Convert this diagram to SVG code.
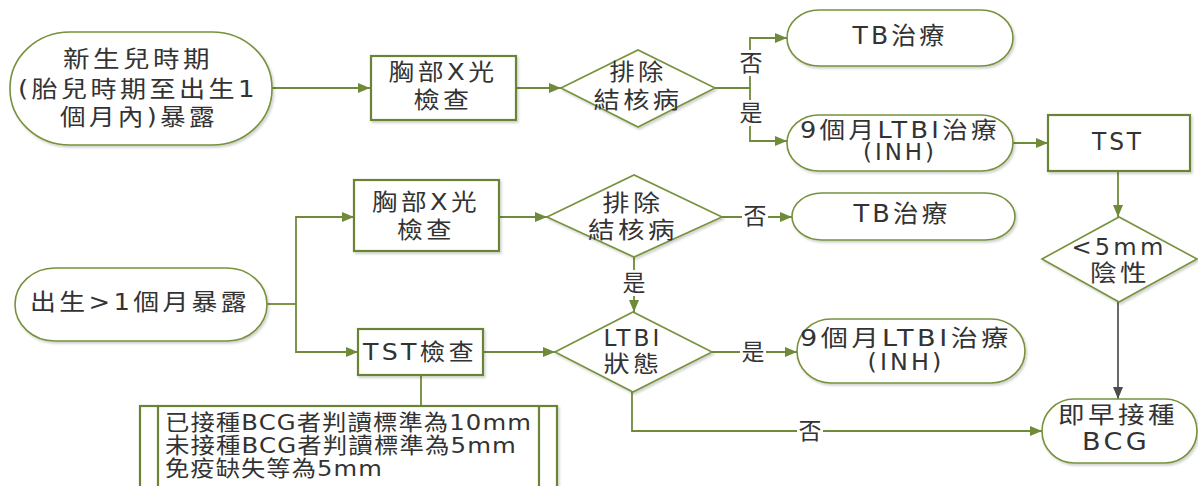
<svg xmlns="http://www.w3.org/2000/svg" width="1198" height="486" viewBox="0 0 1198 486">
<defs>
<style>
.sh{fill:#fff;stroke:#76923c;stroke-width:1.6}
.bx{fill:#fff;stroke:#6b8436;stroke-width:2.2}
.ln{fill:none;stroke:#6f8a39;stroke-width:1.8}
.lg{fill:none;stroke:#595959;stroke-width:1.8}
text{font-family:"DejaVu Sans","Noto Sans CJK TC","Noto Sans CJK SC",sans-serif;font-size:23px;fill:#333;text-anchor:middle;dominant-baseline:central;letter-spacing:3px}
.big{font-size:24px}
.lab{font-size:23px;letter-spacing:0}
.nt{text-anchor:start;font-size:22px;letter-spacing:1px}
.lb{fill:#fff}
</style>
<marker id="ag" viewBox="0 0 12 10" refX="12" refY="5" markerWidth="12" markerHeight="10" markerUnits="userSpaceOnUse" orient="auto">
<path d="M0,0 L12,5 L0,10 Z" fill="#6f8a39"/>
</marker>
<marker id="ak" viewBox="0 0 12 10" refX="12" refY="5" markerWidth="12" markerHeight="10" markerUnits="userSpaceOnUse" orient="auto">
<path d="M0,0 L12,5 L0,10 Z" fill="#4d4d4d"/>
</marker>
<filter id="ds" x="-10%" y="-10%" width="125%" height="130%">
<feDropShadow dx="1.5" dy="2" stdDeviation="1.2" flood-color="#000" flood-opacity="0.18"/>
</filter>
</defs>
<rect width="1198" height="486" fill="#fff"/>

<g id="connectors">
<path class="ln" d="M272,88 H370" marker-end="url(#ag)"/>
<path class="ln" d="M516,88 H561" marker-end="url(#ag)"/>
<path class="ln" d="M715,88 H750"/>
<path class="ln" d="M750,88 V38 H787" marker-end="url(#ag)"/>
<path class="ln" d="M750,88 V141 H787" marker-end="url(#ag)"/>
<path class="ln" d="M1013,143 H1048" marker-end="url(#ag)"/>
<path class="ln" d="M1118,171 V217" marker-end="url(#ag)"/>
<path class="lg" d="M1118,302 V399" marker-end="url(#ak)"/>
<path class="ln" d="M267,304 H296"/>
<path class="ln" d="M296,304 V217 H354" marker-end="url(#ag)"/>
<path class="ln" d="M296,304 V352 H358" marker-end="url(#ag)"/>
<path class="ln" d="M499,217 H547" marker-end="url(#ag)"/>
<path class="ln" d="M722,217 H792" marker-end="url(#ag)"/>
<path class="ln" d="M634,257 V312" marker-end="url(#ag)"/>
<path class="ln" d="M483,352 H555" marker-end="url(#ag)"/>
<path class="ln" d="M712,352 H797" marker-end="url(#ag)"/>
<path class="ln" d="M632,392 V431 H1042" marker-end="url(#ag)"/>
<path class="ln" d="M421,375 V406"/>
<rect class="lb" x="738" y="50" width="26" height="26"/>
<text class="lab" x="751" y="63">否</text>
<rect class="lb" x="738" y="100" width="26" height="26"/>
<text class="lab" x="751" y="113">是</text>
<rect class="lb" x="742" y="203" width="26" height="26"/>
<text class="lab" x="755" y="216">否</text>
<rect class="lb" x="621" y="270" width="26" height="26"/>
<text class="lab" x="634" y="283">是</text>
<rect class="lb" x="740" y="339" width="26" height="26"/>
<text class="lab" x="753" y="352">是</text>
<rect class="lb" x="797" y="418" width="26" height="26"/>
<text class="lab" x="810" y="431">否</text>
</g>

<g id="n-newborn">
<rect class="sh" filter="url(#ds)" x="10" y="32" width="262" height="113" rx="60" ry="56"/>
<text x="138" y="59" textLength="150" lengthAdjust="spacingAndGlyphs">新生兒時期</text>
<text x="138" y="89" textLength="240" lengthAdjust="spacingAndGlyphs">(胎兒時期至出生1</text>
<text x="139" y="117" textLength="158" lengthAdjust="spacingAndGlyphs">個月內)暴露</text>
</g>

<g id="n-xray1">
<rect class="bx" filter="url(#ds)" x="371" y="56" width="145" height="64"/>
<text x="443" y="72" textLength="109" lengthAdjust="spacingAndGlyphs">胸部X光</text>
<text x="443" y="100" textLength="59" lengthAdjust="spacingAndGlyphs">檢查</text>
</g>

<g id="n-rule1">
<polygon class="sh" filter="url(#ds)" points="561,88 638,50 715,88 638,127"/>
<text x="638" y="72" textLength="57" lengthAdjust="spacingAndGlyphs">排除</text>
<text x="638" y="100" textLength="89" lengthAdjust="spacingAndGlyphs">結核病</text>
</g>

<g id="n-tb1">
<rect class="sh" filter="url(#ds)" x="787" y="10" width="226" height="56" rx="32" ry="28"/>
<text class="big" x="900" y="36" textLength="95" lengthAdjust="spacingAndGlyphs">TB治療</text>
</g>

<g id="n-ltbi1">
<rect class="sh" filter="url(#ds)" x="787" y="115" width="226" height="56" rx="32" ry="28"/>
<text x="900" y="130" textLength="200" lengthAdjust="spacingAndGlyphs">9個月LTBI治療</text>
<text x="900" y="152" textLength="74" lengthAdjust="spacingAndGlyphs">(INH)</text>
</g>

<g id="n-tst1">
<rect class="bx" filter="url(#ds)" x="1048" y="115" width="142" height="56"/>
<text class="big" x="1118" y="142" textLength="52" lengthAdjust="spacingAndGlyphs">TST</text>
</g>

<g id="n-after1m">
<rect class="sh" filter="url(#ds)" x="15" y="268" width="252" height="73" rx="40" ry="36.5"/>
<text x="140" y="302" textLength="220" lengthAdjust="spacingAndGlyphs">出生&gt;1個月暴露</text>
</g>

<g id="n-xray2">
<rect class="bx" filter="url(#ds)" x="354" y="180" width="145" height="71"/>
<text x="426" y="202" textLength="108" lengthAdjust="spacingAndGlyphs">胸部X光</text>
<text x="426" y="230" textLength="58" lengthAdjust="spacingAndGlyphs">檢查</text>
</g>

<g id="n-tst2">
<rect class="bx" filter="url(#ds)" x="358" y="329" width="125" height="46"/>
<text x="420" y="352" textLength="114" lengthAdjust="spacingAndGlyphs">TST檢查</text>
</g>

<g id="n-rule2">
<polygon class="sh" filter="url(#ds)" points="547,217 634,175 722,217 634,257"/>
<text x="633" y="203" textLength="61" lengthAdjust="spacingAndGlyphs">排除</text>
<text x="633" y="230" textLength="90" lengthAdjust="spacingAndGlyphs">結核病</text>
</g>

<g id="n-tb2">
<rect class="sh" filter="url(#ds)" x="792" y="193" width="223" height="47" rx="30" ry="23.5"/>
<text class="big" x="902" y="214" textLength="97" lengthAdjust="spacingAndGlyphs">TB治療</text>
</g>

<g id="n-ltbistate">
<polygon class="sh" filter="url(#ds)" points="555,352 633,312 712,352 633,392"/>
<text x="633" y="338" textLength="59" lengthAdjust="spacingAndGlyphs">LTBI</text>
<text x="633" y="364" textLength="59" lengthAdjust="spacingAndGlyphs">狀態</text>
</g>

<g id="n-ltbi2">
<rect class="sh" filter="url(#ds)" x="797" y="319" width="228" height="64" rx="34" ry="32"/>
<text x="906" y="338" textLength="212" lengthAdjust="spacingAndGlyphs">9個月LTBI治療</text>
<text x="906" y="362" textLength="77" lengthAdjust="spacingAndGlyphs">(INH)</text>
</g>

<g id="n-neg">
<polygon class="sh" filter="url(#ds)" points="1042,259 1119,217 1197,259 1119,302"/>
<text x="1119" y="247" textLength="95" lengthAdjust="spacingAndGlyphs">&lt;5mm</text>
<text x="1120" y="273" textLength="60" lengthAdjust="spacingAndGlyphs">陰性</text>
</g>

<g id="n-bcg">
<rect class="sh" filter="url(#ds)" x="1042" y="399" width="155" height="64" rx="32" ry="32"/>
<text x="1118" y="415" textLength="120" lengthAdjust="spacingAndGlyphs">即早接種</text>
<text class="big" x="1116" y="442" textLength="68" lengthAdjust="spacingAndGlyphs">BCG</text>
</g>

<g id="n-note">
<rect class="bx" filter="url(#ds)" x="140" y="406" width="417" height="100"/>
<path class="bx" d="M158,406 V506 M539,406 V506"/>
<text class="nt" x="165" y="422" textLength="367" lengthAdjust="spacingAndGlyphs">已接種BCG者判讀標準為10mm</text>
<text class="nt" x="165" y="445" textLength="352" lengthAdjust="spacingAndGlyphs">未接種BCG者判讀標準為5mm</text>
<text class="nt" x="165" y="468" textLength="218" lengthAdjust="spacingAndGlyphs">免疫缺失等為5mm</text>
</g>
</svg>
